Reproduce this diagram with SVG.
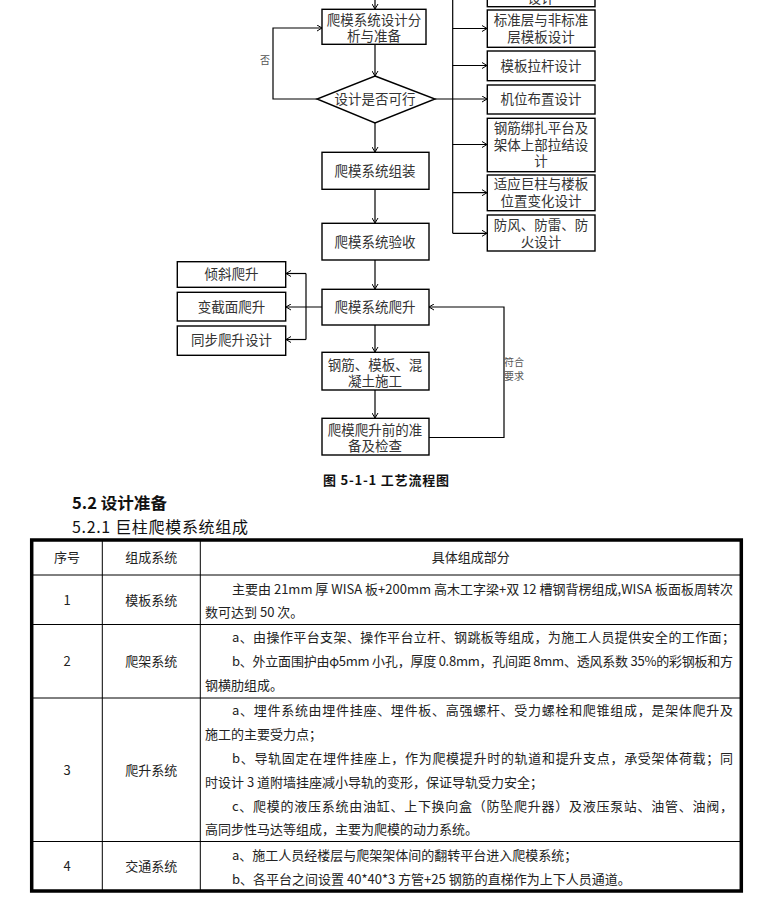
<svg xmlns="http://www.w3.org/2000/svg" width="777" height="902" viewBox="0 0 777 902">
<defs>
<marker id="arr" viewBox="0 0 5 7" refX="5" refY="3.5" markerWidth="5" markerHeight="7" orient="auto" markerUnits="userSpaceOnUse">
<path d="M0,0.5 L5,3.5 L0,6.5" fill="none" stroke="#000" stroke-width="1"/>
</marker>
<style>
.b{fill:#fff;stroke:#000;stroke-width:1.4}
.c{fill:none;stroke:#000;stroke-width:1.2}
.t{font-family:"Noto Sans CJK SC","Liberation Sans",sans-serif;font-size:13.5px;fill:#333;text-anchor:middle}
.s{font-family:"Noto Sans CJK SC","Liberation Sans",sans-serif;font-size:10px;fill:#555}
.tb{font-family:"Noto Sans CJK SC","Liberation Sans",sans-serif;font-size:13px;fill:#222}
.tc{font-family:"Noto Sans CJK SC","Liberation Sans",sans-serif;font-size:13px;fill:#222;text-anchor:middle}
.g{fill:none;stroke:#000;stroke-width:1}
</style>
</defs>
<rect width="777" height="902" fill="#fff"/>

<g id="connectors">
<path class="c" d="M375,0 V9" marker-end="url(#arr)"/>
<path class="c" d="M375,44 V76" marker-end="url(#arr)"/>
<path class="c" d="M317,99 H273 V28 H322" marker-end="url(#arr)"/>
<path class="c" d="M375,123 V152" marker-end="url(#arr)"/>
<path class="c" d="M375,189 V223" marker-end="url(#arr)"/>
<path class="c" d="M375,260 V289" marker-end="url(#arr)"/>
<path class="c" d="M375,325 V352" marker-end="url(#arr)"/>
<path class="c" d="M375,390 V418" marker-end="url(#arr)"/>
<path class="c" d="M429,437.5 H504 V307 H429" marker-end="url(#arr)"/>
<path class="c" d="M452.7,0 V233.3"/>
<path class="c" d="M452.7,28.5 H487" marker-end="url(#arr)"/>
<path class="c" d="M452.7,65.5 H487" marker-end="url(#arr)"/>
<path class="c" d="M435,99 H487" marker-end="url(#arr)"/>
<path class="c" d="M452.7,144.5 H487" marker-end="url(#arr)"/>
<path class="c" d="M452.7,192.7 H487" marker-end="url(#arr)"/>
<path class="c" d="M452.7,233.3 H487" marker-end="url(#arr)"/>
<path class="c" d="M322,307 H286" marker-end="url(#arr)"/>
<path class="c" d="M306,273.5 V339.5"/>
<path class="c" d="M306,273.5 H286" marker-end="url(#arr)"/>
<path class="c" d="M306,339.5 H286" marker-end="url(#arr)"/>
<text class="s" x="260" y="64">否</text>
<text class="s" x="504" y="366">符合</text>
<text class="s" x="504" y="380">要求</text>
</g>

<g id="n-design">
<rect class="b" x="322" y="9.3" width="104" height="35"/>
<text class="t" x="374" y="25">爬模系统设计分</text>
<text class="t" x="374" y="40.5">析与准备</text>
</g>
<g id="n-feasible">
<polygon class="b" points="375,76 435,99 375,123 317,99"/>
<text class="t" x="375" y="104">设计是否可行</text>
</g>
<g id="n-assemble">
<rect class="b" x="322" y="152.3" width="107" height="37"/>
<text class="t" x="375" y="176">爬模系统组装</text>
</g>
<g id="n-accept">
<rect class="b" x="322" y="223.3" width="107" height="36.7"/>
<text class="t" x="375" y="247">爬模系统验收</text>
</g>
<g id="n-climb">
<rect class="b" x="322" y="289.3" width="107" height="35.7"/>
<text class="t" x="375" y="312">爬模系统爬升</text>
</g>
<g id="n-construct">
<rect class="b" x="322" y="352.3" width="107" height="37.7"/>
<text class="t" x="375" y="369.5">钢筋、模板、混</text>
<text class="t" x="375" y="385.5">凝土施工</text>
</g>
<g id="n-check">
<rect class="b" x="322" y="418.3" width="107" height="36.7"/>
<text class="t" x="375" y="435">爬模爬升前的准</text>
<text class="t" x="375" y="450.5">备及检查</text>
</g>

<g id="n-r0">
<rect class="b" x="487.3" y="-30" width="107.7" height="36.7"/>
<text class="t" x="541" y="3">设计</text>
</g>
<g id="n-r1">
<rect class="b" x="487.3" y="10" width="107.7" height="37.3"/>
<text class="t" x="541" y="25">标准层与非标准</text>
<text class="t" x="541" y="41.5">层模板设计</text>
</g>
<g id="n-r2">
<rect class="b" x="487.3" y="51" width="107.7" height="29.7"/>
<text class="t" x="541" y="71">模板拉杆设计</text>
</g>
<g id="n-r3">
<rect class="b" x="487.3" y="85" width="107.7" height="29"/>
<text class="t" x="541" y="104">机位布置设计</text>
</g>
<g id="n-r4">
<rect class="b" x="487.3" y="118.3" width="107.7" height="53.4"/>
<text class="t" x="541" y="133">钢筋绑扎平台及</text>
<text class="t" x="541" y="149.5">架体上部拉结设</text>
<text class="t" x="541" y="166">计</text>
</g>
<g id="n-r5">
<rect class="b" x="487.3" y="175" width="107.7" height="35.7"/>
<text class="t" x="541" y="189">适应巨柱与楼板</text>
<text class="t" x="541" y="206">位置变化设计</text>
</g>
<g id="n-r6">
<rect class="b" x="487.3" y="215" width="107.7" height="36"/>
<text class="t" x="541" y="230">防风、防雷、防</text>
<text class="t" x="541" y="246.5">火设计</text>
</g>

<g id="n-l1">
<rect class="b" x="177.3" y="261.7" width="108.4" height="25.6"/>
<text class="t" x="231.5" y="279">倾斜爬升</text>
</g>
<g id="n-l2">
<rect class="b" x="177.3" y="292.3" width="108.4" height="28.7"/>
<text class="t" x="231.5" y="312">变截面爬升</text>
</g>
<g id="n-l3">
<rect class="b" x="177.3" y="326" width="108.4" height="29.3"/>
<text class="t" x="231.5" y="345">同步爬升设计</text>
</g>

<g id="caption">
<text x="386" y="485" font-family="'Noto Sans CJK SC','Liberation Sans',sans-serif" font-size="13" font-weight="bold" fill="#111" text-anchor="middle" textLength="126" lengthAdjust="spacing">图 5-1-1 工艺流程图</text>
<text x="72" y="509" font-family="'Noto Sans CJK SC','Liberation Sans',sans-serif" font-size="16" font-weight="bold" fill="#111" textLength="95" lengthAdjust="spacingAndGlyphs">5.2 设计准备</text>
<text x="72" y="532.5" font-family="'Noto Sans CJK SC','Liberation Sans',sans-serif" font-size="16" fill="#111" textLength="176" lengthAdjust="spacing">5.2.1 巨柱爬模系统组成</text>
</g>

<g id="table">
<path class="g" d="M31.7,575 H741.3 M31.7,624.5 H741.3 M31.7,698 H741.3 M31.7,841.5 H741.3 M102.3,540 V891 M200.3,540 V891"/>
<rect x="31.7" y="540" width="709.6" height="351" fill="none" stroke="#000" stroke-width="3.5"/>
<text class="tc" x="67" y="562">序号</text>
<text class="tc" x="151.3" y="562">组成系统</text>
<text class="tc" x="470.8" y="562">具体组成部分</text>

<text class="tc" x="67" y="605">1</text>
<text class="tc" x="151.3" y="605">模板系统</text>
<text class="tb" x="232" y="593.5" textLength="501" lengthAdjust="spacing">主要由 21mm 厚 WISA 板+200mm 高木工字梁+双 12 槽钢背楞组成,WISA 板面板周转次</text>
<text class="tb" x="205" y="617">数可达到 50 次。</text>

<text class="tc" x="67" y="666">2</text>
<text class="tc" x="151.3" y="666">爬架系统</text>
<text class="tb" x="232" y="641.5" textLength="503" lengthAdjust="spacing">a、由操作平台支架、操作平台立杆、钢跳板等组成，为施工人员提供安全的工作面；</text>
<text class="tb" x="232" y="665.5" textLength="501" lengthAdjust="spacing">b、外立面围护由φ5mm 小孔，厚度 0.8mm，孔间距 8mm、透风系数 35%的彩钢板和方</text>
<text class="tb" x="205" y="689.5">钢横肋组成。</text>

<text class="tc" x="67" y="775">3</text>
<text class="tc" x="151.3" y="775">爬升系统</text>
<text class="tb" x="232" y="714.5" textLength="501" lengthAdjust="spacing">a、埋件系统由埋件挂座、埋件板、高强螺杆、受力螺栓和爬锥组成，是架体爬升及</text>
<text class="tb" x="205" y="738.5">施工的主要受力点；</text>
<text class="tb" x="232" y="762.5" textLength="501" lengthAdjust="spacing">b、导轨固定在埋件挂座上，作为爬模提升时的轨道和提升支点，承受架体荷载；同</text>
<text class="tb" x="205" y="786.5">时设计 3 道附墙挂座减小导轨的变形，保证导轨受力安全；</text>
<text class="tb" x="232" y="810.5" textLength="501" lengthAdjust="spacing">c、爬模的液压系统由油缸、上下换向盒（防坠爬升器）及液压泵站、油管、油阀，</text>
<text class="tb" x="205" y="833.5">高同步性马达等组成，主要为爬模的动力系统。</text>

<text class="tc" x="67" y="871">4</text>
<text class="tc" x="151.3" y="871">交通系统</text>
<text class="tb" x="232" y="859.5">a、施工人员经楼层与爬架架体间的翻转平台进入爬模系统；</text>
<text class="tb" x="232" y="883.5">b、各平台之间设置 40*40*3 方管+25 钢筋的直梯作为上下人员通道。</text>
</g>
</svg>
